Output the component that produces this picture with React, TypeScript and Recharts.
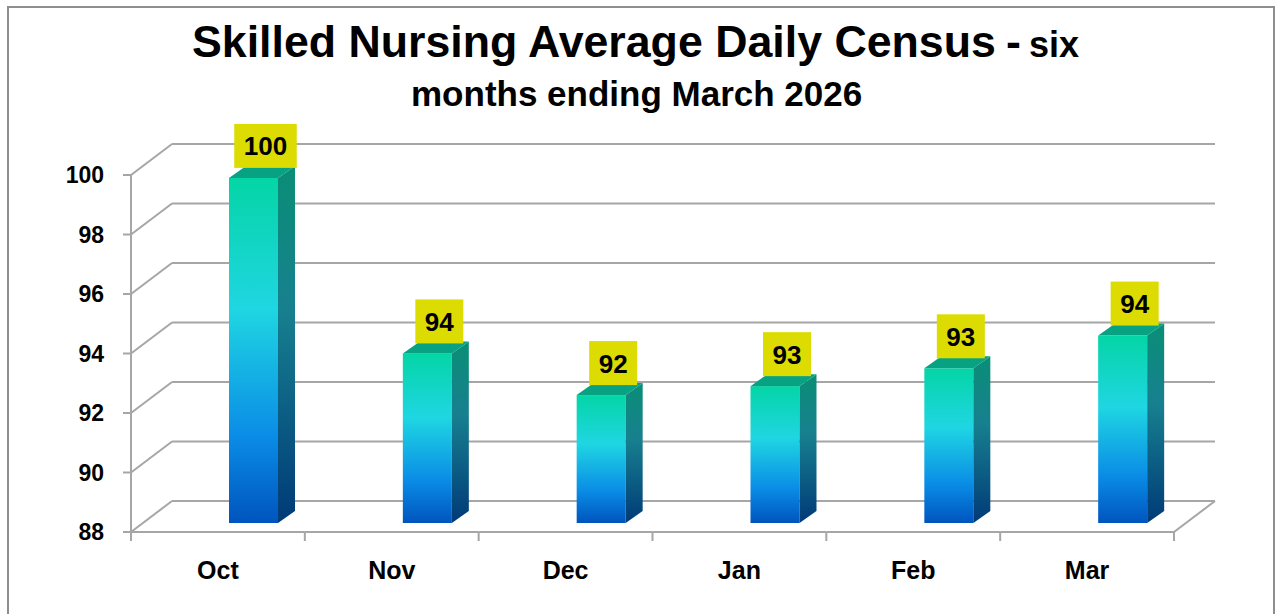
import React from 'react';
import { BarChart, Bar, XAxis, YAxis, CartesianGrid, LabelList } from 'recharts';

// ---- data ----
const months = ['Oct', 'Nov', 'Dec', 'Jan', 'Feb', 'Mar'];
const census = [99.6, 93.7, 92.3, 92.6, 93.2, 94.3];
const yTicks = [88, 90, 92, 94, 96, 98, 100];
const titleMain = 'Skilled Nursing Average Daily Census';
const titleDash = '-';
const titleSmall = 'six';
const subtitle = 'months ending March 2026';

const data = months.map((m, i) => ({ month: m, value: census[i] }));

// ---- layout / style ----
const W = 1276;
const H = 614;
const M = { top: 144, right: 61, bottom: 83, left: 131 };
const YAXIS_W = 41;
const XAXIS_H = 30;
const PLOT_L = M.left + YAXIS_W;
const PLOT_R = W - M.right;
const PLOT_T = M.top;
const PLOT_B = H - M.bottom - XAXIS_H;
const PLOT_W = PLOT_R - PLOT_L;
const PLOT_H = PLOT_B - PLOT_T;
const DEPTH_DX = 41;
const DEPTH_DY = 31;
const BAR_DX = -5;
const BAR_DY = 22;
const SIDE_DX = 17;
const SIDE_DY = -12;
const GRID = '#a6a6a6';
const FONT = "'Liberation Sans', Arial, Helvetica, sans-serif";

const Bar3D = (props: any) => {
  const { x, y, width, height, index } = props;
  if (x == null || y == null) return null;
  const fx = x + BAR_DX;
  const fy = y + BAR_DY;
  const b = fy + height;
  const gid = `barFront${index}`;
  const sid = `barSide${index}`;
  return (
    <g>
      <defs>
        <linearGradient id={gid} x1="0" y1="0" x2="0" y2="1">
          <stop offset="0" stopColor="#04d5a6" />
          <stop offset="0.38" stopColor="#1fd6e2" />
          <stop offset="0.75" stopColor="#0a8ce6" />
          <stop offset="1" stopColor="#0054be" />
        </linearGradient>
        <linearGradient id={sid} x1="0" y1="0" x2="0" y2="1">
          <stop offset="0" stopColor="#0a8e76" />
          <stop offset="0.4" stopColor="#17808f" />
          <stop offset="1" stopColor="#003a78" />
        </linearGradient>
      </defs>
      <rect x={fx} y={fy} width={width} height={height} fill={`url(#${gid})`} />
      <polygon
        points={`${fx + width},${fy} ${fx + width + SIDE_DX},${fy + SIDE_DY} ${fx + width + SIDE_DX},${b + SIDE_DY} ${fx + width},${b}`}
        fill={`url(#${sid})`}
      />
      <polygon
        points={`${fx},${fy} ${fx + SIDE_DX},${fy + SIDE_DY} ${fx + width + SIDE_DX},${fy + SIDE_DY} ${fx + width},${fy}`}
        fill="#07a282"
      />
    </g>
  );
};

const ValueLabel = (props: any) => {
  const vb = props.viewBox && props.viewBox.width != null ? props.viewBox : props;
  const { x, y, width } = vb;
  const value = props.value;
  if (x == null || y == null || value == null) return null;
  const txt = String(Math.round(Number(value)));
  const bw = txt.length * 14.5 + 19;
  const bh = 44;
  const cx = x + BAR_DX + width / 2 + 12;
  const bottom = y + BAR_DY - 10;
  return (
    <g>
      <rect x={cx - bw / 2} y={bottom - bh} width={bw} height={bh} fill="#dcdc02" />
      <text
        x={cx}
        y={bottom - 12.5}
        textAnchor="middle"
        fontSize={26}
        fontWeight={700}
        fill="#000"
        fontFamily={FONT}
      >
        {txt}
      </text>
    </g>
  );
};

const YTick = (props: any) => {
  const { y, payload } = props;
  const n = props.visibleTicksCount ?? yTicks.length;
  const step = PLOT_H / (n - 1);
  const fx = PLOT_L - DEPTH_DX;
  const fy = y + DEPTH_DY;
  const v = payload.value;
  return (
    <g>
      <line x1={fx} y1={fy} x2={PLOT_L} y2={y} stroke={GRID} strokeWidth={2} />
      <line x1={fx - 8} y1={fy} x2={fx} y2={fy} stroke={GRID} strokeWidth={2} />
      {v !== yTicks[yTicks.length - 1] && (
        <line x1={fx} y1={fy} x2={fx} y2={fy - step} stroke={GRID} strokeWidth={2} />
      )}
      {v === yTicks[0] && (
        <line x1={fx} y1={fy} x2={fx} y2={fy + 9} stroke={GRID} strokeWidth={2} />
      )}
      <text
        x={fx - 27}
        y={fy}
        dy="0.36em"
        textAnchor="end"
        fontSize={23}
        fontWeight={700}
        fill="#000"
        fontFamily={FONT}
      >
        {v}
      </text>
    </g>
  );
};

const XTick = (props: any) => {
  const { x, payload, index } = props;
  const n = props.visibleTicksCount ?? months.length;
  const bw = PLOT_W / n;
  const fx = x - DEPTH_DX;
  const floorY = PLOT_B + DEPTH_DY;
  return (
    <g>
      <line x1={fx - bw / 2} y1={floorY} x2={fx + bw / 2} y2={floorY} stroke={GRID} strokeWidth={2} />
      <line x1={fx - bw / 2} y1={floorY} x2={fx - bw / 2} y2={floorY + 9} stroke={GRID} strokeWidth={2} />
      {index === n - 1 && (
        <g>
          <line x1={fx + bw / 2} y1={floorY} x2={fx + bw / 2} y2={floorY + 9} stroke={GRID} strokeWidth={2} />
          <line x1={fx + bw / 2} y1={floorY} x2={x + bw / 2} y2={PLOT_B} stroke={GRID} strokeWidth={2} />
        </g>
      )}
      <text
        x={fx}
        y={floorY + 47}
        textAnchor="middle"
        fontSize={25}
        fontWeight={700}
        fill="#000"
        fontFamily={FONT}
      >
        {payload.value}
      </text>
    </g>
  );
};

export default function App() {
  return (
    <div
      style={{
        position: 'absolute',
        left: 0,
        top: 0,
        width: W,
        height: H,
        overflow: 'hidden',
        background: '#fff',
      }}
    >
      <div
        style={{
          position: 'absolute',
          left: 7,
          top: 6,
          width: 1268,
          height: 700,
          boxSizing: 'border-box',
          border: '2px solid #8e8e8e',
        }}
      />
      <div style={{ position: 'absolute', left: 0, top: 0 }}>
        <BarChart width={W} height={H} data={data} margin={M}>
          <CartesianGrid horizontal vertical={false} stroke={GRID} strokeWidth={2} />
          <XAxis
            dataKey="month"
            height={XAXIS_H}
            axisLine={false}
            tickLine={false}
            interval={0}
            tick={<XTick />}
          />
          <YAxis
            type="number"
            domain={[88, 100]}
            ticks={yTicks}
            interval={0}
            width={YAXIS_W}
            axisLine={false}
            tickLine={false}
            tick={<YTick />}
          />
          <Bar dataKey="value" barSize={49} shape={<Bar3D />} isAnimationActive={false}>
            <LabelList dataKey="value" content={<ValueLabel />} />
          </Bar>
        </BarChart>
      </div>
      <svg
        width={W}
        height={H}
        style={{ position: 'absolute', left: 0, top: 0, pointerEvents: 'none' }}
      >
        <text x={192} y={57} fontWeight={700} fill="#000" fontFamily={FONT}>
          <tspan fontSize={44.7}>{titleMain}</tspan>
          <tspan x={1006} fontSize={44.7}>{titleDash}</tspan>
          <tspan x={1029} fontSize={36}>{titleSmall}</tspan>
        </text>
        <text
          x={411}
          y={106}
          fontSize={35}
          fontWeight={700}
          fill="#000"
          fontFamily={FONT}
        >
          {subtitle}
        </text>
      </svg>
    </div>
  );
}
